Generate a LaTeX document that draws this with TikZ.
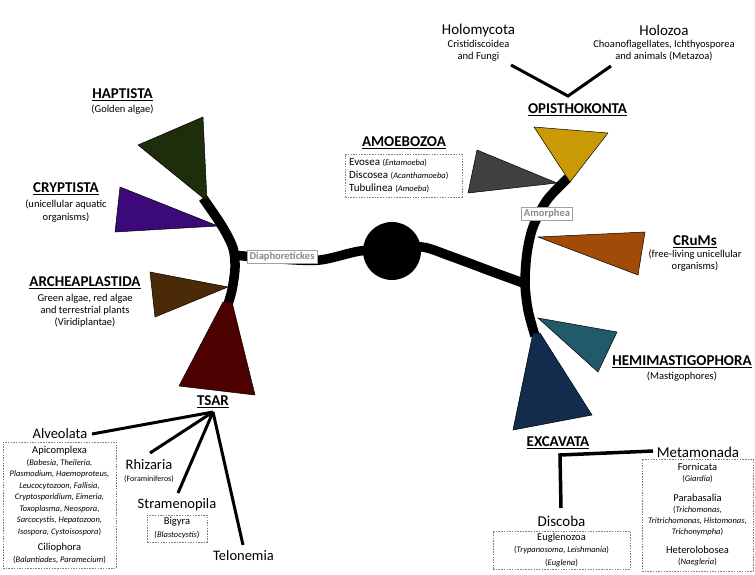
\documentclass[tikz,border=0pt]{standalone}
\usepackage{fontspec}
\setmainfont{Carlito}
\definecolor{cHap}{HTML}{1E2D0B}
\definecolor{cCry}{HTML}{3C0A78}
\definecolor{cArc}{HTML}{4B2A07}
\definecolor{cTsar}{HTML}{4D0000}
\definecolor{cAmo}{HTML}{404040}
\definecolor{cOpi}{HTML}{C99A06}
\definecolor{cCru}{HTML}{A04C08}
\definecolor{cHem}{HTML}{215B6A}
\definecolor{cExc}{HTML}{132B4C}
\definecolor{cGrayTxt}{HTML}{8A8A8A}
\tikzset{
  head/.style={font=\bfseries\fontsize{15}{16}\selectfont, inner sep=0},
  subt/.style={font=\fontsize{10.5}{12}\selectfont, align=center, inner sep=0},
  big/.style={font=\fontsize{15}{16}\selectfont, inner sep=0},
  tri/.style={draw=black, line width=0.5pt, line join=miter},
  stem/.style={line width=9.5pt, black},
  twig/.style={line width=3pt, black},
  cladebox/.style={draw=cGrayTxt!80, fill=white, text=cGrayTxt, font=\bfseries\fontsize{10.5}{12}\selectfont, inner xsep=2.5pt, inner ysep=2pt, line width=0.6pt},
  dbox/.style={draw=gray, dash pattern=on 1.5pt off 1.2pt, line width=0.5pt, align=center, inner sep=0},
}
\begin{document}
\begin{tikzpicture}[x=1pt,y=-1pt]
\useasboundingbox (0,0) rectangle (755,574);

% ---- stems ----
\draw[stem] plot[smooth] coordinates {(203,198) (222,226) (233,248) (235,268) (232,290) (228,304)};
\draw[stem] plot[smooth] coordinates {(568,178) (547,200) (533,227) (527,253) (525,283) (528,310) (535,336)};
\draw[stem] plot[smooth] coordinates {(233,255) (280,259) (320,260) (360,251) (392,250)};
\draw[stem] plot[smooth] coordinates {(392,250) (422,247) (450,256) (493,272) (526,284)};
\node[circle, fill=black, minimum size=58pt, inner sep=0] (root) at (392,251) {};

% ---- triangles ----
\filldraw[tri, fill=cHap] (138,145) -- (203,117) -- (207,201) -- cycle;
\filldraw[tri, fill=cCry] (120,187) -- (115,232) -- (218,226) -- cycle;
\filldraw[tri, fill=cArc] (150,272) -- (155,317) -- (228,287) -- cycle;
\filldraw[tri, fill=cTsar] (223,302) -- (232,302) -- (255,395) -- (179,386) -- cycle;
\filldraw[tri, fill=cAmo] (477,150) -- (468,193) -- (557,183) -- cycle;
\filldraw[tri, fill=cOpi] (534,127) -- (608,133) -- (570,182) -- cycle;
\filldraw[tri, fill=cCru] (538,237) -- (645,232) -- (638,275) -- cycle;
\filldraw[tri, fill=cHem] (538,318) -- (617,332) -- (598,372) -- cycle;
\filldraw[tri, fill=cExc] (533,333) -- (540,333) -- (592,415) -- (513,430) -- cycle;

% ---- clade labels ----
\node[cladebox] (diaph) at (282,257) {Diaphoretickes};
\node[cladebox] (amorph) at (547,214) {Amorphea};

% ---- left headings ----
\node[head] (hap) at (122.5,95) {\underline{HAPTISTA}};
\node[subt] (hapS) at (122.5,109.5) {(Golden algae)};
\node[head] (cry) at (66,189) {\underline{CRYPTISTA}};
\node[subt, font=\fontsize{10.5}{12.8}\selectfont] (cryS) at (66,211) {(unicellular aquatic\\organisms)};
\node[head] (arc) at (85,283) {\underline{ARCHEAPLASTIDA}};
\node[subt, font=\fontsize{10.5}{12}\selectfont] (arcS) at (85,311) {Green algae, red algae\\and terrestrial plants\\(Viridiplantae)};

% ---- Amoebozoa ----
\node[head] (amo) at (404,143) {\underline{AMOEBOZOA}};
\node[dbox, minimum width=117pt, minimum height=43pt] (amoBox) at (403.5,175.5) {};
\node[anchor=west, inner sep=0, align=left, font=\fontsize{11}{13}\selectfont] (amoT) at (349,176)
  {Evosea {\fontsize{8.5}{13}\selectfont(\textit{Entamoeba})}\\
   Discosea {\fontsize{8.5}{13}\selectfont(\textit{Acanthamoeba})}\\
   Tubulinea {\fontsize{8.5}{13}\selectfont(\textit{Amoeba})}};

% ---- Opisthokonta ----
\node[big] (holm) at (478.5,30) {Holomycota};
\node[subt] (holmS) at (478.5,51) {Cristidiscoidea\\and Fungi};
\node[big] (holz) at (664,30) {Holozoa};
\node[subt] (holzS) at (664,51) {Choanoflagellates, Ichthyosporea\\and animals (Metazoa)};
\coordinate (vL) at (511,65);
\coordinate (vM) at (568,96);
\coordinate (vR) at (611,66);
\draw[twig, line join=miter] (vL) -- (vM) -- (vR);
\node[head] (opi) at (577.5,110) {\underline{OPISTHOKONTA}};

% ---- CRuMs, Hemimastigophora ----
\node[head] (cru) at (695,242) {\underline{CRuMs}};
\node[subt] (cruS) at (695,261) {(free-living unicellular\\organisms)};
\node[head] (hem) at (682,362) {\underline{HEMIMASTIGOPHORA}};
\node[subt] (hemS) at (682,377) {(Mastigophores)};

% ---- TSAR ----
\node[head] (tsar) at (213,402) {\underline{TSAR}};
\coordinate (hub) at (213,412);
\node[big, font=\fontsize{14.5}{16}\selectfont] (alv) at (60,434) {Alveolata};
\node[big, font=\fontsize{14.5}{16}\selectfont] (rhi) at (149,465) {Rhizaria};
\node[subt, font=\fontsize{8}{10}\selectfont] (rhiS) at (149,479) {(Foraminiferos)};
\node[big, font=\fontsize{14.5}{16}\selectfont] (str) at (177,505) {Stramenopila};
\node[big, font=\fontsize{14.5}{16}\selectfont] (tel) at (243.5,556) {Telonemia};
\coordinate (alvE) at (92,434);
\coordinate (rhiE) at (150,453);
\coordinate (strE) at (178,493);
\coordinate (telE) at (243,545);
\draw[twig] (alvE) -- (hub);
\draw[twig] (rhiE) -- (hub);
\draw[twig] (strE) -- (hub);
\draw[twig] (telE) -- (hub);

\node[dbox, minimum width=113pt, minimum height=126pt, font=\fontsize{8.5}{11.5}\selectfont] (alvBox) at (59.5,505)
  {{\fontsize{10.5}{11.5}\selectfont Apicomplexa}\\
   (\textit{Babesia, Theileria,}\\
   \textit{Plasmodium, Haemoproteus,}\\
   \textit{Leucocytozoon, Fallisia,}\\
   \textit{Cryptosporidium, Eimeria,}\\
   \textit{Toxoplasma, Neospora,}\\
   \textit{Sarcocystis, Hepatozoon,}\\
   \textit{Isospora, Cystoisospora})\\[5pt]
   {\fontsize{10.5}{11.5}\selectfont Ciliophora}\\
   (\textit{Balantiades, Paramecium})};

\node[dbox, minimum width=60pt, minimum height=27pt, font=\fontsize{8.5}{13}\selectfont] (bigBox) at (177,528.5)
  {{\fontsize{10.5}{13}\selectfont Bigyra}\\(\textit{Blastocystis})};

% ---- Excavata ----
\node[head] (exc) at (558,443) {\underline{EXCAVATA}};
\node[big] (met) at (698,452) {Metamonada};
\node[big] (dis) at (561.5,521) {Discoba};
\coordinate (metW) at (653,451);
\coordinate (excC) at (560,455);
\coordinate (disN) at (561,508);
\draw[line width=3.5pt, line join=miter] (metW) -- (excC) -- (disN);

\node[dbox, minimum width=137pt, minimum height=38pt, font=\fontsize{8.5}{12.5}\selectfont] (eugBox) at (561.5,550)
  {{\fontsize{10.5}{12.5}\selectfont Euglenozoa}\\(\textit{Trypanosoma, Leishmania})\\(\textit{Euglena})};

\node[dbox, minimum width=111pt, minimum height=112pt, font=\fontsize{8.5}{11}\selectfont] (metBox) at (697.5,515)
  {{\fontsize{10.5}{11}\selectfont Fornicata}\\(\textit{Giardia})\\[9pt]
   {\fontsize{10.5}{11}\selectfont Parabasalia}\\(\textit{Trichomonas,}\\
   \textit{Tritrichomonas, Histomonas,}\\\textit{Trichonympha})\\[8pt]
   {\fontsize{10.5}{11}\selectfont Heterolobosea}\\(\textit{Naegleria})};
\end{tikzpicture}
\end{document}
